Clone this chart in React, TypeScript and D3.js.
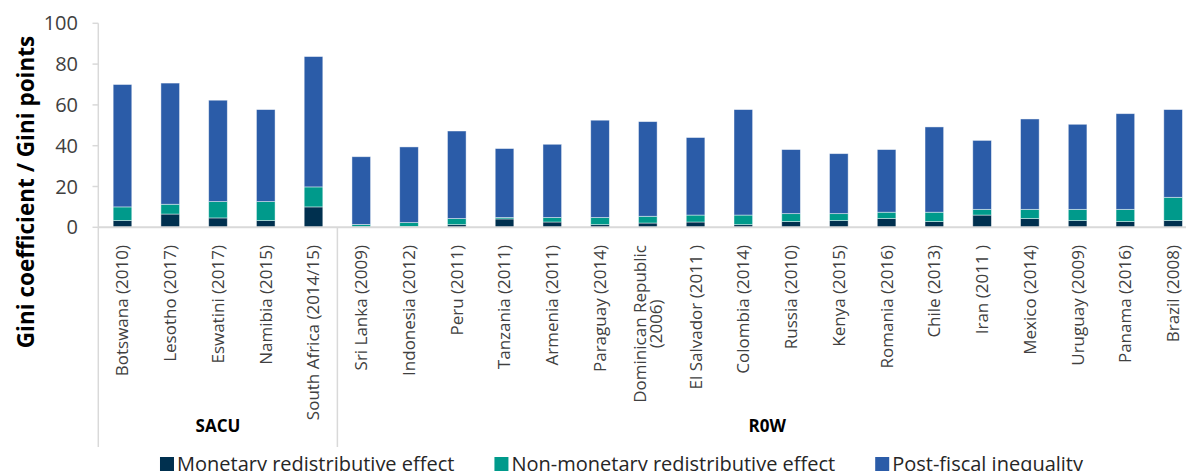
import React, { useEffect, useRef } from 'react';
import * as d3 from 'd3';

const categories = [
  'Botswana (2010)', 'Lesotho (2017)', 'Eswatini (2017)', 'Namibia (2015)', 'South Africa (2014/15)',
  'Sri Lanka (2009)', 'Indonesia (2012)', 'Peru (2011)', 'Tanzania (2011)', 'Armenia (2011)',
  'Paraguay (2014)', 'Dominican Republic|(2006)', 'El Salvador (2011 )', 'Colombia (2014)', 'Russia (2010)',
  'Kenya (2015)', 'Romania (2016)', 'Chile (2013)', 'Iran (2011 )', 'Mexico (2014)',
  'Uruguay (2009)', 'Panama (2016)', 'Brazil (2008)',
];
const monetary = [3.3, 6.5, 4.6, 3.3, 10.0, 0.2, 0.3, 1.3, 4.1, 2.6, 1.3, 2.1, 2.6, 1.3, 2.8, 3.3, 4.3, 2.8, 6.0, 4.3, 3.3, 2.8, 3.3];
const nonMonetary = [6.7, 4.8, 8.0, 9.3, 9.8, 1.2, 2.0, 3.0, 0.7, 2.2, 3.5, 3.3, 3.4, 4.7, 3.9, 3.4, 3.1, 4.6, 2.8, 4.5, 5.5, 6.0, 11.4];
const postFiscal = [60.0, 59.4, 49.7, 45.1, 63.9, 33.2, 37.1, 42.9, 33.8, 35.9, 47.7, 46.4, 38.0, 51.7, 31.4, 29.4, 30.7, 41.8, 33.8, 44.3, 41.7, 46.9, 43.0];
const yTicks = [0, 20, 40, 60, 80, 100];
const groupNames = ['SACU', 'R0W'];
const groupStart = [0, 5];
const groupEnd = [5, 23];
const seriesNames = ['Monetary redistributive effect', 'Non-monetary redistributive effect', 'Post-fiscal inequality'];
const seriesColors = ['#00304f', '#009a8b', '#2b5ca8'];
const yTitle = 'Gini coefficient / Gini points';

const FONT = '"Open Sans", "Noto Sans", sans-serif';

export default function App() {
  const ref = useRef<SVGSVGElement>(null);
  useEffect(() => {
    const svg = d3.select(ref.current);
    svg.selectAll('*').remove();

    const x = d3.scaleBand<string>().domain(categories).range([98.6, 1197]).paddingInner(0.61).paddingOuter(0.305);
    const y = d3.scaleLinear().domain([0, 100]).range([227.3, 23.3]);
    const step = x.step();
    const r0 = x.range()[0];
    const axisColor = '#d9d9d9';

    // bars
    const rows = categories.map((c, i) => ({ cat: c, m: monetary[i], n: nonMonetary[i], p: postFiscal[i] }));
    const stacked = d3.stack<any>().keys(['m', 'n', 'p'])(rows);
    svg.append('g').selectAll('g').data(stacked).join('g')
      .attr('fill', (_d, i) => seriesColors[i])
      .selectAll('rect').data(d => d).join('rect')
      .attr('x', d => x(d.data.cat)!)
      .attr('width', x.bandwidth())
      .attr('y', d => y(d[1]))
      .attr('height', d => Math.max(0, y(d[0]) - y(d[1])))
      .attr('stroke', 'rgba(255,255,255,0.55)')
      .attr('stroke-width', 0.8);

    // y axis
    const ya = svg.append('g');
    ya.append('line').attr('x1', 98.3).attr('x2', 98.3).attr('y1', y(100)).attr('y2', y(0))
      .attr('stroke', axisColor).attr('stroke-width', 1.5);
    ya.selectAll('line.t').data(yTicks).join('line').attr('class', 't')
      .attr('x1', 92.5).attr('x2', 98.3).attr('y1', d => y(d)).attr('y2', d => y(d))
      .attr('stroke', axisColor).attr('stroke-width', 1.5);
    ya.selectAll('text').data(yTicks).join('text')
      .attr('x', 78).attr('y', d => y(d)).attr('dy', '0.35em')
      .attr('text-anchor', 'end').attr('font-family', FONT).attr('font-size', 20)
      .attr('fill', '#404040').text(d => d);

    // x axis baseline and separators
    svg.append('line').attr('x1', 98.3).attr('x2', 1197).attr('y1', y(0)).attr('y2', y(0))
      .attr('stroke', axisColor).attr('stroke-width', 2);
    const seps = [0, 5, 23].map(i => r0 + step * i);
    svg.selectAll('line.sep').data(seps).join('line').attr('class', 'sep')
      .attr('x1', d => (d < 99 ? 98.3 : d)).attr('x2', d => (d < 99 ? 98.3 : d))
      .attr('y1', y(0)).attr('y2', 447)
      .attr('stroke', axisColor).attr('stroke-width', 1.5);

    // category labels
    const labelTop = 245;
    const lg = svg.append('g').attr('font-family', FONT).attr('font-size', 17).attr('fill', '#404040');
    categories.forEach(c => {
      const cx = x(c)! + x.bandwidth() / 2;
      const parts = c.split('|');
      if (parts.length === 1) {
        lg.append('text').attr('transform', `translate(${cx},${labelTop}) rotate(-90)`)
          .attr('text-anchor', 'end').attr('dy', '0.35em').text(c);
      } else {
        const t1 = lg.append('text').attr('transform', `translate(${cx - 8},${labelTop}) rotate(-90)`)
          .attr('text-anchor', 'end').attr('dy', '0.35em').text(parts[0]);
        const w1 = (t1.node() as SVGTextElement).getComputedTextLength();
        lg.append('text').attr('transform', `translate(${cx + 8},${labelTop + w1 / 2}) rotate(-90)`)
          .attr('text-anchor', 'middle').attr('dy', '0.35em').text(parts[1]);
      }
    });

    // group labels
    groupNames.forEach((g, i) => {
      const gx = (r0 + step * groupStart[i] + r0 + step * groupEnd[i]) / 2;
      svg.append('text').attr('x', gx).attr('y', 432).attr('text-anchor', 'middle')
        .attr('font-family', FONT).attr('font-size', 17).attr('font-weight', 700).attr('fill', '#000')
        .text(g);
    });

    // y title
    svg.append('text').attr('transform', `translate(34,192) rotate(-90)`)
      .attr('text-anchor', 'middle').attr('font-family', FONT).attr('font-size', 22.5)
      .attr('font-weight', 700).attr('fill', '#000').text(yTitle);

    // legend
    const leg = svg.append('g');
    const items = seriesNames.map((n, i) => {
      const g = leg.append('g');
      g.append('rect').attr('x', 0).attr('y', 457).attr('width', 14).attr('height', 14).attr('fill', seriesColors[i]);
      const t = g.append('text').attr('x', 17).attr('y', 470.5).attr('font-family', FONT).attr('font-size', 20)
        .attr('fill', '#262626').text(n);
      const w = 17 + (t.node() as SVGTextElement).getComputedTextLength();
      return { g, w };
    });
    const gap = 40;
    const total = items.reduce((s, it) => s + it.w, 0) + gap * (items.length - 1);
    let cur = 621.5 - total / 2;
    items.forEach(it => {
      it.g.attr('transform', `translate(${cur},0)`);
      cur += it.w + gap;
    });
  }, []);
  return (
    <svg ref={ref} width={1186} height={471}
      style={{ position: 'absolute', left: 0, top: 0, background: '#fff' }} />
  );
}
